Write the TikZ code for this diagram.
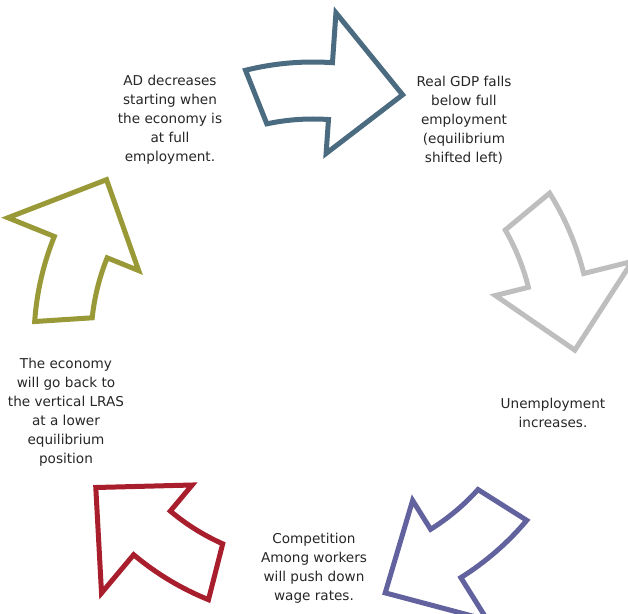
\documentclass[tikz,border=0pt]{standalone}
\usepackage{fontspec}
\setmainfont{DejaVu Sans}
\usetikzlibrary{positioning}

\definecolor{arrowblue}{RGB}{74,107,128}
\definecolor{arrowgray}{RGB}{190,190,190}
\definecolor{arrowpurple}{RGB}{98,98,158}
\definecolor{arrowred}{RGB}{169,30,45}
\definecolor{arrowolive}{RGB}{153,153,55}

\tikzset{
  cyclearrow/.style={line width=5pt, line join=miter, fill=white},
  note/.style={align=center, text=black!85, font=\fontsize{13.6}{19}\selectfont},
}

\begin{document}
\begin{tikzpicture}[x=1pt,y=1pt,node distance=294pt,on grid]
\useasboundingbox (-313,-272) rectangle (315,341);
\clip (-313,-272) rectangle (315,341);

% the curved arrows, one every 72 degrees round the middle
\foreach \i/\col in {0/arrowblue,1/arrowgray,2/arrowpurple,3/arrowred,4/arrowolive}{
  \draw[cyclearrow,draw=\col,rotate=-72*\i]
    (104:279) arc[start angle=104,end angle=86,radius=279]
    -- (86:329) -- (70:262) -- (86:188) -- (86:222)
    arc[start angle=86,end angle=102,radius=222] -- cycle;
}

\node[note] (ad) at (-143,221) {AD decreases\\starting when\\the economy is\\at full\\employment.};
\node[note] (gdp) [right=of ad] {Real GDP falls\\below full\\employment\\(equilibrium\\shifted left)};
\node[note] (unemp) at (240,-72) {Unemployment\\increases.};
\node[note] (wage) at (1,-227) {Competition\\Among workers\\will push down\\wage rates.};
\node[note] (lras) at (-247,-71) {The economy\\will go back to\\the vertical LRAS\\at a lower\\equilibrium\\position};
\end{tikzpicture}
\end{document}
